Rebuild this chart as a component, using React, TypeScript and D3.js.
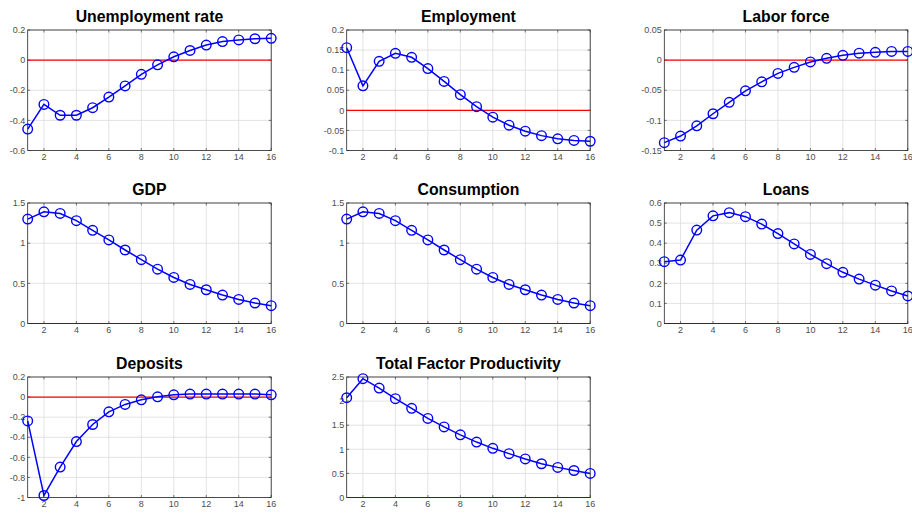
import React from "react";
import * as d3 from "d3";

const periods = d3.range(1, 17);
const xTicks = [2, 4, 6, 8, 10, 12, 14, 16];

const titles = [
  "Unemployment rate",
  "Employment",
  "Labor force",
  "GDP",
  "Consumption",
  "Loans",
  "Deposits",
  "Total Factor Productivity",
];

const unemployment = [-0.458, -0.294, -0.366, -0.366, -0.316, -0.245, -0.171, -0.094, -0.031, 0.022, 0.064, 0.1, 0.123, 0.134, 0.142, 0.145];
const employment = [0.156, 0.061, 0.122, 0.142, 0.132, 0.104, 0.072, 0.039, 0.009, -0.017, -0.037, -0.052, -0.063, -0.071, -0.075, -0.077];
const laborForce = [-0.137, -0.126, -0.109, -0.089, -0.07, -0.051, -0.036, -0.022, -0.012, -0.003, 0.003, 0.008, 0.0115, 0.013, 0.0145, 0.0145];
const gdp = [1.3, 1.39, 1.37, 1.28, 1.16, 1.04, 0.915, 0.795, 0.676, 0.573, 0.486, 0.42, 0.354, 0.3, 0.255, 0.222];
const consumption = [1.3, 1.39, 1.37, 1.28, 1.16, 1.04, 0.915, 0.795, 0.676, 0.573, 0.486, 0.42, 0.354, 0.3, 0.255, 0.222];
const loans = [0.308, 0.316, 0.465, 0.536, 0.552, 0.532, 0.495, 0.448, 0.396, 0.344, 0.298, 0.255, 0.221, 0.191, 0.162, 0.137];
const deposits = [-0.237, -0.98, -0.697, -0.443, -0.273, -0.147, -0.073, -0.027, 0.003, 0.023, 0.03, 0.03, 0.03, 0.03, 0.03, 0.023];
const tfp = [2.07, 2.465, 2.27, 2.05, 1.85, 1.64, 1.465, 1.3, 1.15, 1.02, 0.91, 0.8, 0.7, 0.625, 0.56, 0.5];

const seriesList = [unemployment, employment, laborForce, gdp, consumption, loans, deposits, tfp];

const yDomains: [number, number][] = [
  [-0.6, 0.2],
  [-0.1, 0.2],
  [-0.15, 0.05],
  [0, 1.5],
  [0, 1.5],
  [0, 0.6],
  [-1, 0.2],
  [0, 2.5],
];
const yTickLists = [
  [-0.6, -0.4, -0.2, 0, 0.2],
  [-0.1, -0.05, 0, 0.05, 0.1, 0.15, 0.2],
  [-0.15, -0.1, -0.05, 0, 0.05],
  [0, 0.5, 1, 1.5],
  [0, 0.5, 1, 1.5],
  [0, 0.1, 0.2, 0.3, 0.4, 0.5, 0.6],
  [-1, -0.8, -0.6, -0.4, -0.2, 0, 0.2],
  [0, 0.5, 1, 1.5, 2, 2.5],
];

const colLefts = [27.7, 346.7, 664.3];
const rowTops = [30, 203, 377];
const panelW = 243.5;
const panelH = 120.5;

const fmt = (v: number) => {
  const r = Math.round(v * 1000) / 1000;
  return String(r);
};

function Panel({ idx }: { idx: number }) {
  const col = idx % 3;
  const row = Math.floor(idx / 3);
  const left = colLefts[col];
  const top = rowTops[row];
  const x = d3.scaleLinear().domain([1, 16]).range([left, left + panelW]);
  const y = d3.scaleLinear().domain(yDomains[idx]).range([top + panelH, top]);
  const data = seriesList[idx];
  const line = d3
    .line<number>()
    .x((_, i) => x(periods[i]))
    .y((d) => y(d));
  const tickLen = 2.5;
  const bottom = top + panelH;
  const right = left + panelW;
  return (
    <g>
      <rect x={left} y={top} width={panelW} height={panelH} fill="#fff" />
      {xTicks.map((t) => (
        <line key={"gx" + t} x1={x(t)} x2={x(t)} y1={top} y2={bottom} stroke="#dcdcdc" strokeWidth={0.8} />
      ))}
      {yTickLists[idx].map((t) => (
        <line key={"gy" + t} x1={left} x2={right} y1={y(t)} y2={y(t)} stroke="#dcdcdc" strokeWidth={0.8} />
      ))}
      {xTicks.map((t) => (
        <g key={"tx" + t}>
          <line x1={x(t)} x2={x(t)} y1={bottom} y2={bottom - tickLen} stroke="#262626" strokeWidth={0.6} />
          <line x1={x(t)} x2={x(t)} y1={top} y2={top + tickLen} stroke="#262626" strokeWidth={0.6} />
          <text x={x(t)} y={bottom + 9.5} textAnchor="middle" fontSize={9} fill="#4d4d4d">
            {t}
          </text>
        </g>
      ))}
      {yTickLists[idx].map((t) => (
        <g key={"ty" + t}>
          <line x1={left} x2={left + tickLen} y1={y(t)} y2={y(t)} stroke="#262626" strokeWidth={0.6} />
          <line x1={right} x2={right - tickLen} y1={y(t)} y2={y(t)} stroke="#262626" strokeWidth={0.6} />
          <text x={left - 2.5} y={y(t) + 3.2} textAnchor="end" fontSize={9} fill="#4d4d4d">
            {fmt(t)}
          </text>
        </g>
      ))}
      <line x1={left} x2={right} y1={y(0)} y2={y(0)} stroke="#ff0000" strokeWidth={1.1} />
      <rect x={left} y={top} width={panelW} height={panelH} fill="none" stroke="#262626" strokeWidth={0.8} />
      <path d={line(data) || ""} fill="none" stroke="#0000ff" strokeWidth={1.5} />
      {data.map((d, i) => (
        <circle key={i} cx={x(periods[i])} cy={y(d)} r={4.8} fill="none" stroke="#0000ff" strokeWidth={1.4} />
      ))}
      <text x={(left + right) / 2} y={top - 8} textAnchor="middle" fontSize={15.8} fontWeight="bold" fill="#000">
        {titles[idx]}
      </text>
    </g>
  );
}

export default function App() {
  return (
    <svg
      width={912}
      height={514}
      style={{ position: "absolute", left: 0, top: 0, fontFamily: "'Liberation Sans', Arial, Helvetica, sans-serif" }}
    >
      <rect x={0} y={0} width={912} height={514} fill="#fff" />
      {titles.map((_, i) => (
        <Panel key={i} idx={i} />
      ))}
    </svg>
  );
}
